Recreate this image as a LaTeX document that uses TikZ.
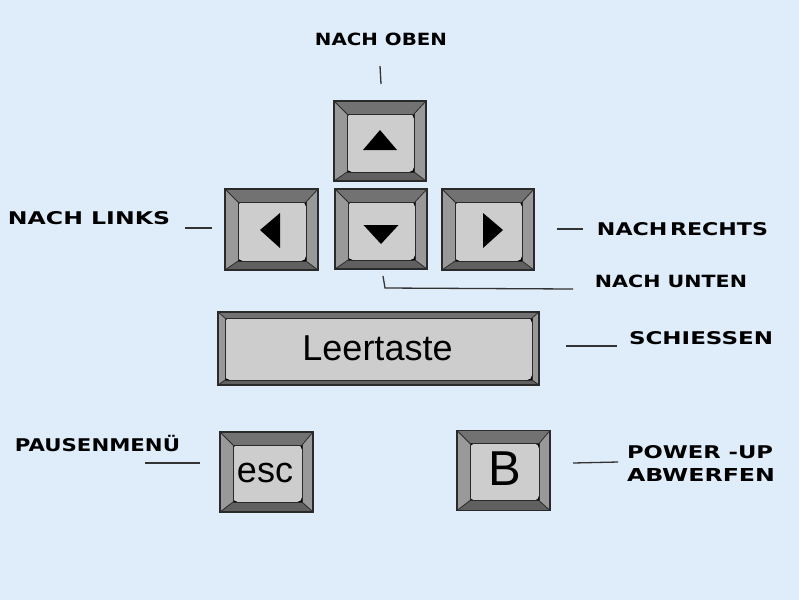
\documentclass[tikz,border=0pt]{standalone}
\usepackage{graphicx}
\usepackage{fontspec}
\setmainfont{Liberation Sans}
\newfontfamily\lblfont{DejaVu Sans}
\definecolor{bgc}{HTML}{DFECFA}
\definecolor{facec}{HTML}{CDCDCD}
\definecolor{topc}{HTML}{727272}
\definecolor{botc}{HTML}{606060}
\definecolor{sidec}{HTML}{999999}
\definecolor{edgec}{HTML}{2A2A2A}
\newcommand\lbl[3]{{\lblfont\bfseries\resizebox{#1pt}{#2pt}{#3}}}
\newcommand\keybevel[5]{%
  \path (#1.north west) coordinate (#1-o1) (#1.north east) coordinate (#1-o2)
        (#1.south east) coordinate (#1-o3) (#1.south west) coordinate (#1-o4);
  \path ([xshift=#2pt,yshift=-#3pt]#1.north west) coordinate (#1-i1)
        ([xshift=-#4pt,yshift=-#3pt]#1.north east) coordinate (#1-i2)
        ([xshift=-#4pt,yshift=#5pt]#1.south east) coordinate (#1-i3)
        ([xshift=#2pt,yshift=#5pt]#1.south west) coordinate (#1-i4);
  \fill[topc] (#1-o1) -- (#1-o2) -- (#1-i2) -- (#1-i1) -- cycle;
  \fill[sidec] (#1-o2) -- (#1-o3) -- (#1-i3) -- (#1-i2) -- cycle;
  \fill[botc] (#1-o3) -- (#1-o4) -- (#1-i4) -- (#1-i3) -- cycle;
  \fill[sidec] (#1-o4) -- (#1-o1) -- (#1-i1) -- (#1-i4) -- cycle;
  \fill[black] (#1-i1) rectangle (#1-i3);
  \fill[facec, rounded corners=5pt] (#1-i1) rectangle (#1-i3);
  \draw[keyline] (#1-o1) -- (#1-i1) (#1-o2) -- (#1-i2) (#1-o3) -- (#1-i3) (#1-o4) -- (#1-i4);
  \draw[keyline] (#1-i1) rectangle (#1-i3);
  \draw[keyline, line width=1.4pt] (#1-o1) rectangle (#1-o3);
}
\begin{document}
\begin{tikzpicture}[x=1pt,y=-1pt,
  keynode/.style={draw=none, inner sep=0pt, outer sep=0pt},
  keyline/.style={draw=edgec, line width=0.8pt},
  lblnode/.style={inner sep=0pt, outer sep=0pt, text=black},
  keytext/.style={inner sep=0pt, outer sep=0pt, text=black},
  leader/.style={draw=black!80, line width=1.3pt}]
\fill[bgc] (0,0) rectangle (799,600);
\useasboundingbox (0,0) rectangle (799,600);

% keys
\node[keynode, minimum width=92pt, minimum height=80pt] (up) at (380,141) {};
\node[keynode, minimum width=93pt, minimum height=81pt] (left) at (271.5,229.5) {};
\node[keynode, minimum width=92pt, minimum height=80pt] (down) at (381,229) {};
\node[keynode, minimum width=92pt, minimum height=81pt] (right) at (488,229.5) {};
\node[keynode, minimum width=321pt, minimum height=73pt] (space) at (378.5,348.5) {};
\node[keynode, minimum width=93pt, minimum height=80pt] (esc) at (266.5,472) {};
\node[keynode, minimum width=93pt, minimum height=80pt] (bkey) at (503.5,470.5) {};

\keybevel{up}{13}{13}{12}{9}
\keybevel{left}{13}{13}{12}{9}
\keybevel{down}{13}{13}{12}{9}
\keybevel{right}{13}{13}{12}{9}
\keybevel{space}{7}{6}{7}{5}
\keybevel{esc}{13}{13}{11}{10}
\keybevel{bkey}{13}{13}{11}{10}

% arrows on keys
\fill[black] ([shift={(0,-11)}]up.center) -- ([shift={(17,9)}]up.center) -- ([shift={(-17,9)}]up.center) -- cycle;
\fill[black] ([shift={(0,15)}]down.center) -- ([shift={(17.5,-4)}]down.center) -- ([shift={(-17.5,-4)}]down.center) -- cycle;
\fill[black] ([shift={(-11.5,0.5)}]left.center) -- ([shift={(8.5,-16.5)}]left.center) -- ([shift={(8.5,18.5)}]left.center) -- cycle;
\fill[black] ([shift={(15,0.5)}]right.center) -- ([shift={(-5,-16.5)}]right.center) -- ([shift={(-5,18.5)}]right.center) -- cycle;

% key texts
\node[keytext, anchor=base, font=\fontsize{36}{40}\selectfont] (tspace) at (377.5,360) {Leertaste};
\node[keytext, anchor=base, font=\fontsize{36}{40}\selectfont] (tesc) at (265,482) {esc};
\node[keytext, anchor=base, font=\fontsize{49}{52}\selectfont] (tb) at (505,485) {B};

% labels
\node[lblnode] (lup) at (381,39) {\lbl{132}{12.5}{NACH OBEN}};
\node[lblnode] (lleft) at (89,218) {\lbl{162}{13}{NACH LINKS}};
\node[lblnode] (lright) at (682.5,229) {\lbl{171}{13}{{\spaceskip=0.12em NACH RECHTS}}};
\node[lblnode] (ldown) at (671,281.5) {\lbl{152}{12.5}{NACH UNTEN}};
\node[lblnode] (lshoot) at (701,338.5) {\lbl{144}{13}{SCHIESSEN}};
\node[lblnode] (lpause) at (97.5,445) {\lbl{165}{13}{PAUSENMEN\smash{Ü}}};
\node[lblnode, anchor=north west, align=left, font=\fontsize{10}{23.5}\selectfont] (lpower) at (627,445)
  {\lbl{146}{13}{POWER -UP}\\\lbl{148}{13}{ABWERFEN}};

% leader lines
\coordinate (cup1) at (380,66);   \coordinate (cup2) at (381,84);
\coordinate (cle1) at (185,228);  \coordinate (cle2) at (212,228);
\coordinate (cri1) at (557,229);  \coordinate (cri2) at (583,229);
\coordinate (cdo1) at (383,276);  \coordinate (cdo2) at (385,288); \coordinate (cdo3) at (573,289);
\coordinate (csh1) at (566,346);  \coordinate (csh2) at (617,346);
\coordinate (cpa1) at (145,463);  \coordinate (cpa2) at (200,463);
\coordinate (cpo1) at (573,463);  \coordinate (cpo2) at (618,462);
\draw[leader] (cup1) -- (cup2);
\draw[leader] (cle1) -- (cle2);
\draw[leader] (cri1) -- (cri2);
\draw[leader] (cdo1) -- (cdo2) -- (cdo3);
\draw[leader] (csh1) -- (csh2);
\draw[leader] (cpa1) -- (cpa2);
\draw[leader] (cpo1) -- (cpo2);
\end{tikzpicture}
\end{document}
